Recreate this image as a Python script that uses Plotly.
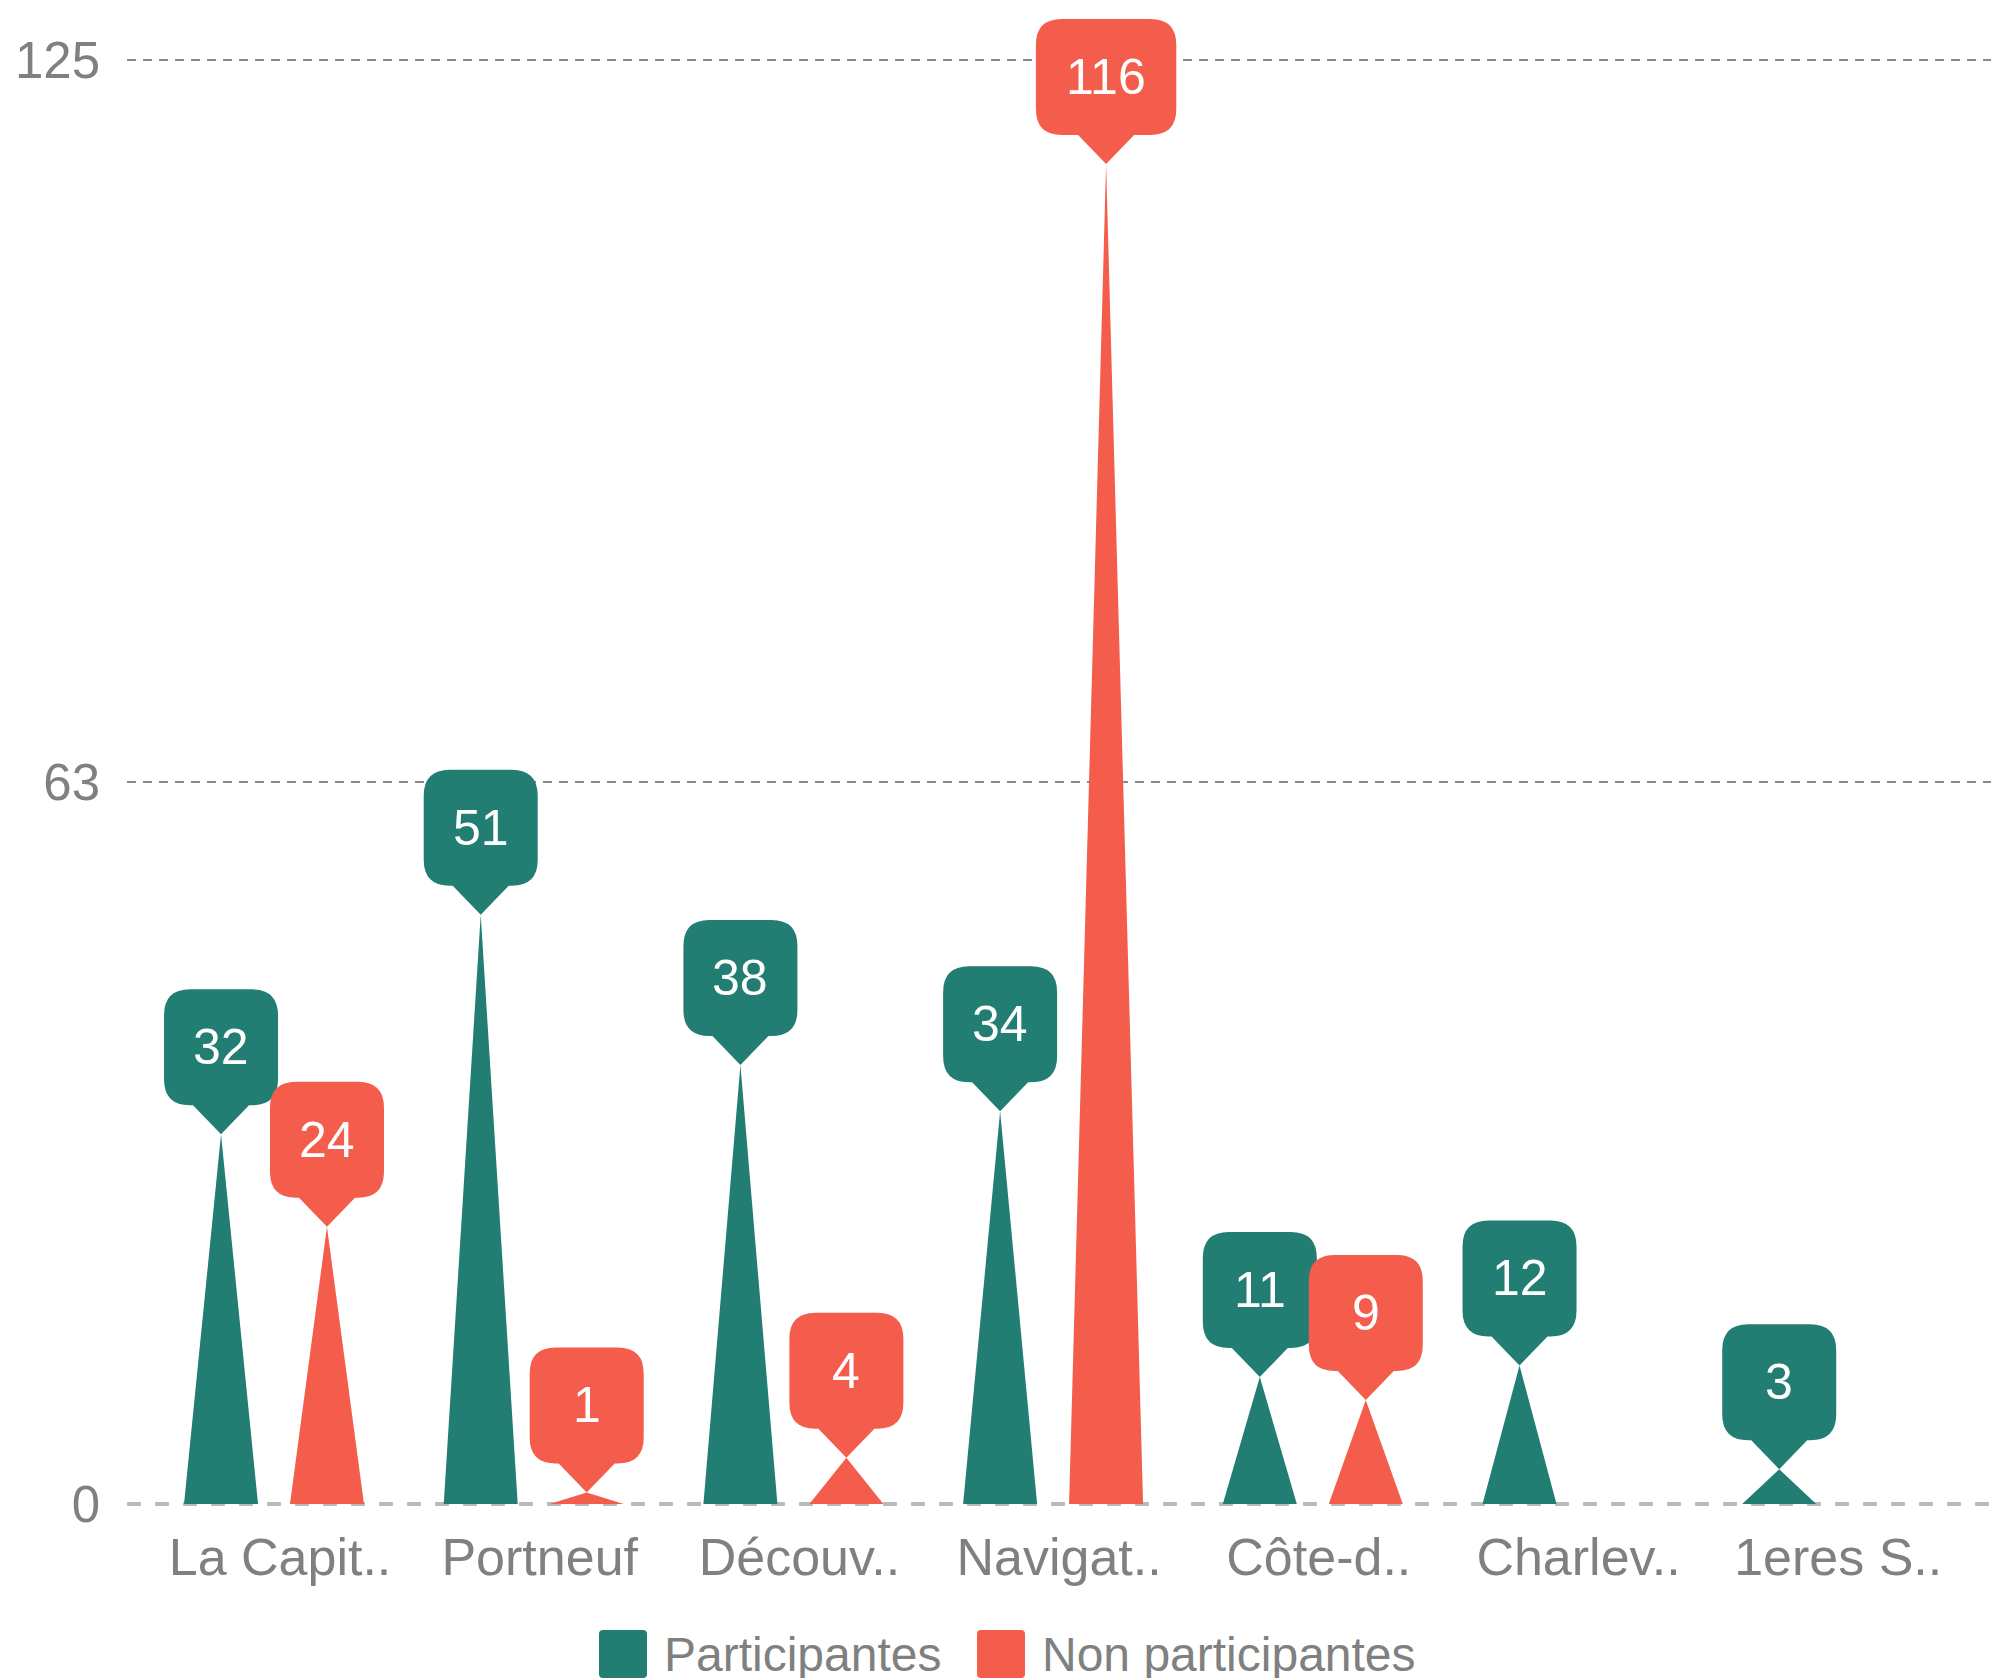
import plotly.graph_objects as go

categories = ["La Capit..", "Portneuf", "Découv..", "Navigat..", "Côte-d..", "Charlev..", "1eres S.."]
participantes = [32, 51, 38, 34, 11, 12, 3]
non_participantes = [24, 1, 4, 116, 9, None, None]
series_names = ["Participantes", "Non participantes"]
y_tickvals = [0, 62.5, 125]
y_ticktext = ["0", "63", "125"]

GREEN = "#227D73"
RED = "#F45D4B"
GRAY_TXT = "#808080"
FONT = "Liberation Sans, Arial, sans-serif"

SH = 8                            # page body margin compensation
W, H = 2001 - SH, 1678 - SH
ML, MR, MT, MB = 127 - SH, 10, 10 - SH, 168
plot_w = W - ML - MR
plot_h = H - MT - MB
step = 259.7                      # px per category
first_center = 274 - SH           # px
x_lo = -(first_center - ML) / step
x_hi = (W - MR - first_center) / step
zero_px = 1504 - SH
px_per_unit = (1504 - 60) / 125
y_hi = (zero_px - MT) / px_per_unit
y_lo = -((H - MB) - zero_px) / px_per_unit

offset = 0.204
half_base = 37 / step

fig = go.Figure()
shapes = []
annotations = []


def callout_path(w):
    hw = w / 2
    pw, yb, yt, r = 28, 29, 29 + 116, 26
    return (f"M 0,0 L {pw},{yb} L {hw - r},{yb} Q {hw},{yb} {hw},{yb + r} "
            f"L {hw},{yt - r} Q {hw},{yt} {hw - r},{yt} L {-hw + r},{yt} "
            f"Q {-hw},{yt} {-hw},{yt - r} L {-hw},{yb + r} Q {-hw},{yb} {-hw + r},{yb} "
            f"L {-pw},{yb} Z")


for values, color, off, name in [(participantes, GREEN, -offset, series_names[0]),
                                  (non_participantes, RED, offset, series_names[1])]:
    xs, ys = [], []
    for i, v in enumerate(values):
        if v is None:
            continue
        cx = i + off
        xs += [cx - half_base, cx, cx + half_base, cx - half_base, None]
        ys += [0, v, 0, 0, None]
    fig.add_trace(go.Scatter(x=xs, y=ys, mode="lines", fill="toself", fillcolor=color,
                             line=dict(width=0, color=color), name=name,
                             hoverinfo="skip", showlegend=False))
    for i, v in enumerate(values):
        if v is None:
            continue
        cx = i + off
        s = str(v)
        w = max(114, len(s) * 27.8 + 57)
        shapes.append(dict(type="path", xref="x", yref="y", xsizemode="pixel", ysizemode="pixel",
                           xanchor=cx, yanchor=v, path=callout_path(w),
                           fillcolor=color, line=dict(width=0), layer="above"))
        annotations.append(dict(x=cx, y=v, xref="x", yref="y", text=s, showarrow=False,
                                yshift=87, yanchor="middle", xanchor="center",
                                font=dict(family=FONT, size=50, color="white")))

# zero line
shapes.append(dict(type="line", xref="paper", yref="y", x0=0, x1=1, y0=0, y1=0,
                   line=dict(color="#BBBBBB", width=4, dash="14px,14px"), layer="below"))

# custom legend
legend_items = [(series_names[0], GREEN, 623 - SH, 662 - SH), (series_names[1], RED, 1001 - SH, 1040 - SH)]
legend_cy = 1654 - SH
for name, color, sq_cx, tx in legend_items:
    hw = 24
    r = 4
    p = (f"M {-hw + r},{-hw} L {hw - r},{-hw} Q {hw},{-hw} {hw},{-hw + r} L {hw},{hw - r} "
         f"Q {hw},{hw} {hw - r},{hw} L {-hw + r},{hw} Q {-hw},{hw} {-hw},{hw - r} "
         f"L {-hw},{-hw + r} Q {-hw},{-hw} {-hw + r},{-hw} Z")
    shapes.append(dict(type="path", xref="paper", yref="paper", xsizemode="pixel", ysizemode="pixel",
                       xanchor=(sq_cx - ML) / plot_w, yanchor=((H - MB) - legend_cy) / plot_h,
                       path=p, fillcolor=color, line=dict(width=0)))
    annotations.append(dict(x=(tx - ML) / plot_w, y=((H - MB) - legend_cy) / plot_h, xref="paper", yref="paper",
                            text=name, showarrow=False, xanchor="left", yanchor="middle",
                            font=dict(family=FONT, size=48, color=GRAY_TXT)))

fig.update_layout(
    width=W, height=H,
    margin=dict(l=ML, r=MR, t=MT, b=MB, pad=0),
    paper_bgcolor="white", plot_bgcolor="white",
    showlegend=False,
    shapes=shapes,
    annotations=annotations,
    xaxis=dict(range=[x_lo, x_hi], tickmode="array", tickvals=list(range(len(categories))),
               ticktext=categories, showgrid=False, zeroline=False, showline=False,
               ticks="", ticklabelstandoff=12, ticklabelshift=6,
               tickfont=dict(family=FONT, size=52, color=GRAY_TXT), fixedrange=True),
    yaxis=dict(range=[y_lo, y_hi], tickmode="array", tickvals=y_tickvals, ticktext=y_ticktext,
               showgrid=True, gridcolor="#888888", gridwidth=2, griddash="9px,7px",
               zeroline=True, zerolinecolor="rgba(0,0,0,0)", zerolinewidth=1,
               showline=False, ticks="", ticklabelstandoff=26,
               tickfont=dict(family=FONT, size=51, color=GRAY_TXT), fixedrange=True),
)

fig.write_html("out.html")
